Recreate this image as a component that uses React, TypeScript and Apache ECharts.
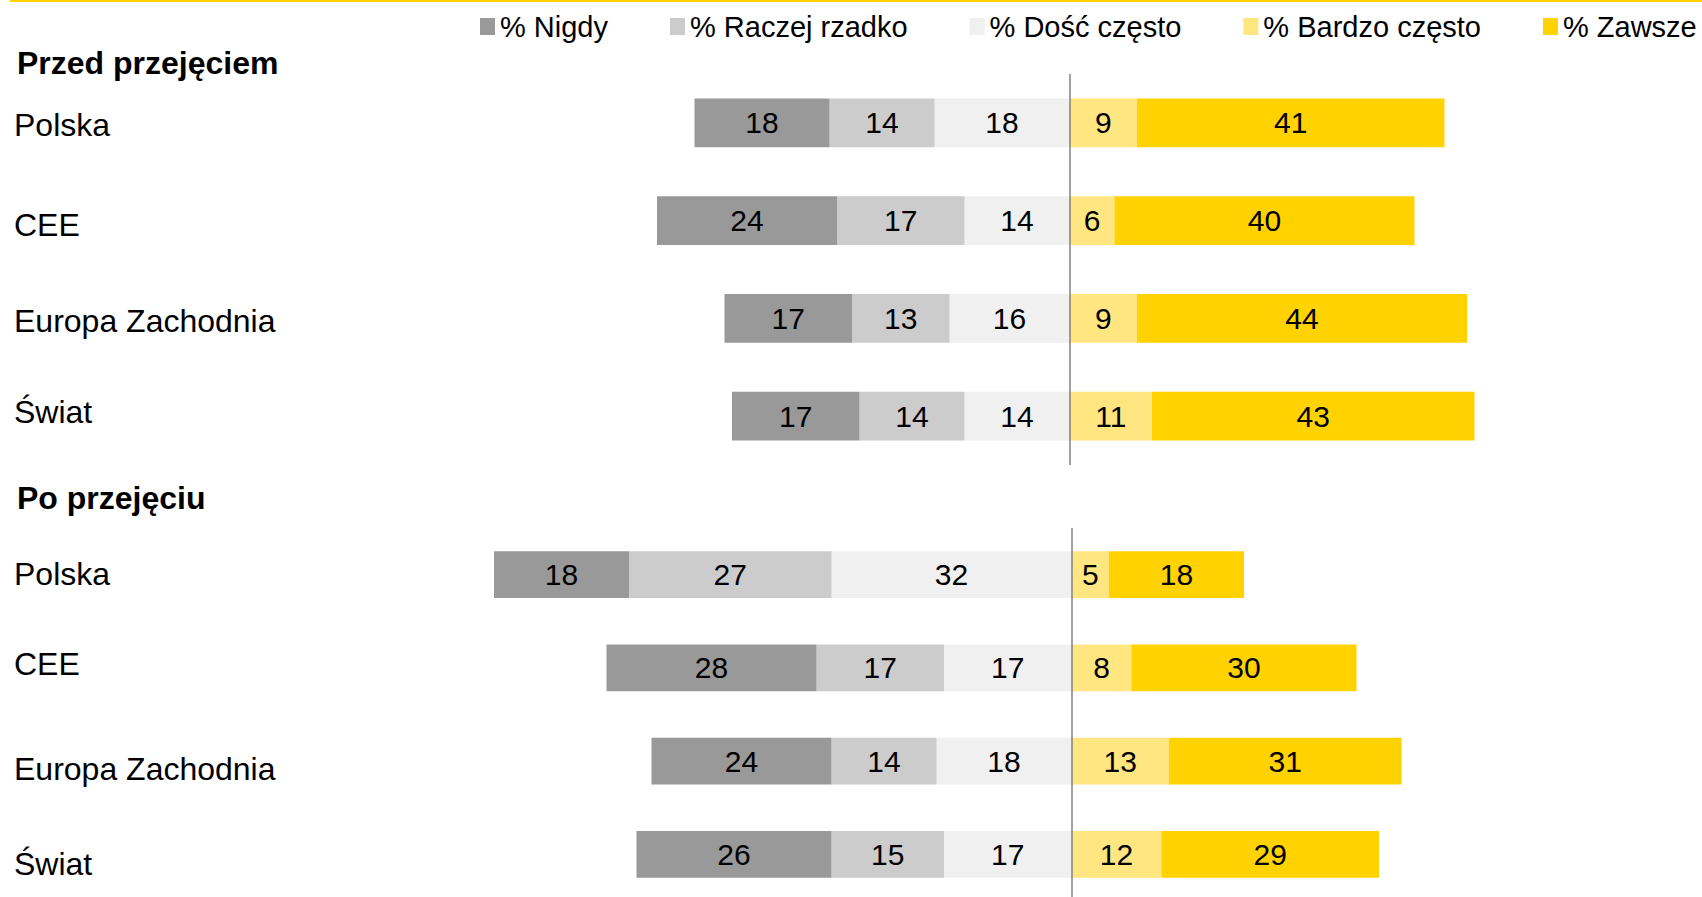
import React, { useEffect, useRef } from "react";
import * as echarts from "echarts";

const seriesNames = ["% Nigdy", "% Raczej rzadko", "% Dość często", "% Bardzo często", "% Zawsze"];
const seriesColors = ["#999999", "#CCCCCC", "#F0F0F0", "#FFE680", "#FFD200"];
const categories = ["Polska", "CEE", "Europa Zachodnia", "Świat"];
const sectionTitles = ["Przed przejęciem", "Po przejęciu"];

// values per category (Polska, CEE, Europa Zachodnia, Świat)
const przedNigdy = [18, 24, 17, 17];
const przedRzadko = [14, 17, 13, 14];
const przedDosc = [18, 14, 16, 14];
const przedBardzo = [9, 6, 9, 11];
const przedZawsze = [41, 40, 44, 43];

const poNigdy = [18, 28, 24, 26];
const poRzadko = [27, 17, 14, 15];
const poDosc = [32, 17, 18, 17];
const poBardzo = [5, 8, 13, 12];
const poZawsze = [18, 30, 31, 29];

// small vertical nudges of the category labels (layout only)
const labelNudge = [
  [2, 4, 3, -4],
  [-1, -4, 8, 10],
];

const FONT = "'Liberation Sans', Arial, sans-serif";

export default function App() {
  const ref = useRef<HTMLDivElement>(null);
  useEffect(() => {
    document.body.style.margin = "0";
    if (!ref.current) return;
    const chart = echarts.init(ref.current, undefined, { renderer: "svg" });

    const sections = [
      { nigdy: przedNigdy, rzadko: przedRzadko, dosc: przedDosc, bardzo: przedBardzo, zawsze: przedZawsze },
      { nigdy: poNigdy, rzadko: poRzadko, dosc: poDosc, bardzo: poBardzo, zawsze: poZawsze },
    ];

    const series: any[] = [];
    sections.forEach((s, gi) => {
      const defs = [
        { name: seriesNames[2], data: s.dosc.map((v) => -v), color: seriesColors[2] },
        { name: seriesNames[1], data: s.rzadko.map((v) => -v), color: seriesColors[1] },
        { name: seriesNames[0], data: s.nigdy.map((v) => -v), color: seriesColors[0] },
        { name: seriesNames[3], data: s.bardzo, color: seriesColors[3] },
        { name: seriesNames[4], data: s.zawsze, color: seriesColors[4] },
      ];
      defs.forEach((d, k) => {
        const ser: any = {
          type: "bar",
          name: d.name,
          xAxisIndex: gi,
          yAxisIndex: gi,
          stack: "s" + gi,
          data: d.data,
          barWidth: "50%",
          itemStyle: { color: d.color },
          label: {
            show: true,
            position: "inside",
            color: "#000",
            fontSize: 30,
            fontFamily: FONT,
            formatter: (p: any) => String(Math.abs(p.value)),
          },
        };
        if (k === 4) {
          ser.markLine = {
            silent: true,
            symbol: ["none", "none"],
            label: { show: false },
            lineStyle: { color: "#808080", width: 1.5, type: "solid" },
            data: [{ xAxis: 0 }],
            z: 10,
          };
        }
        series.push(ser);
      });
    });

    const centers = [1069.5, 1071.5];
    const labelBoxWidth = 300;
    const labelLeft = 14;

    const option: any = {
      animation: false,
      backgroundColor: "#fff",
      textStyle: { fontFamily: FONT },
      title: [
        {
          text: sectionTitles[0],
          left: 12,
          top: 42,
          textStyle: { fontSize: 32, fontWeight: "bold", color: "#000", fontFamily: FONT },
        },
        {
          text: sectionTitles[1],
          left: 12,
          top: 477,
          textStyle: { fontSize: 32, fontWeight: "bold", color: "#000", fontFamily: FONT },
        },
      ],
      legend: {
        data: seriesNames,
        left: 475,
        top: 7,
        width: 1300,
        itemWidth: 15,
        itemHeight: 17,
        itemGap: 62,
        icon: "rect",
        textStyle: { fontSize: 29, color: "#000", fontFamily: FONT },
      },
      graphic: [
        {
          type: "rect",
          shape: { x: 10, y: 0, width: 1692, height: 2 },
          style: { fill: "#FFD200" },
        },
      ],
      grid: [
        { left: centers[0] - 600, width: 1200, top: 74, height: 391, outerBoundsMode: "none", containLabel: false },
        { left: centers[1] - 600, width: 1200, top: 528, height: 373, outerBoundsMode: "none", containLabel: false },
      ],
      xAxis: [0, 1].map((i) => ({
        type: "value",
        gridIndex: i,
        min: -80,
        max: 80,
        show: false,
        splitLine: { show: false },
      })),
      yAxis: [0, 1].map((i) => ({
        type: "category",
        gridIndex: i,
        data: categories.map((c, j) => {
          const n = labelNudge[i][j];
          return {
            value: c,
            textStyle: { padding: n >= 0 ? [2 * n, 0, 0, 0] : [0, 0, -2 * n, 0] },
          };
        }),
        inverse: true,
        axisLine: { show: false },
        axisTick: { show: false },
        axisLabel: {
          margin: centers[i] - 600 - labelLeft - labelBoxWidth,
          fontSize: 32,
          color: "#000",
          fontFamily: FONT,
          formatter: "{a|{value}}",
          rich: {
            a: { width: labelBoxWidth, align: "left", fontSize: 32, color: "#000", fontFamily: FONT },
          },
        },
      })),
      series,
    };
    chart.setOption(option);
    return () => chart.dispose();
  }, []);
  return <div ref={ref} style={{ width: 1702, height: 897 }} />;
}
